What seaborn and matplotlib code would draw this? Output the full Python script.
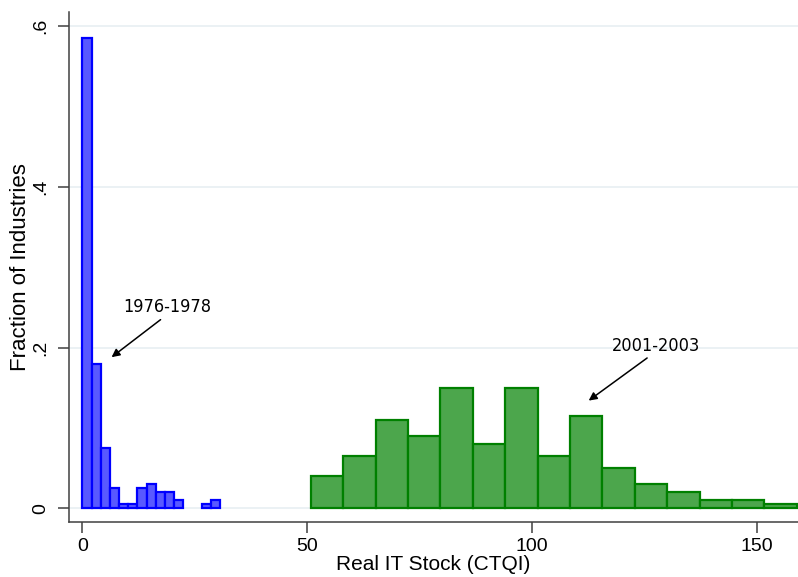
import matplotlib.pyplot as plt
import numpy as np
import pandas as pd
import seaborn as sns

# histogram bins (fraction of industries per bin)
early_start, early_width = 0.0, 2.04
early_frac = [0.585, 0.180, 0.075, 0.025, 0.005, 0.005, 0.025, 0.030,
              0.020, 0.020, 0.010, 0.0, 0.0, 0.005, 0.010]

late_start, late_width = 50.8, 7.205
late_frac = [0.040, 0.065, 0.110, 0.090, 0.150, 0.080, 0.150, 0.065,
             0.115, 0.050, 0.030, 0.020, 0.010, 0.010, 0.005]

x_ticks = [0, 50, 100, 150]
y_ticks = [0, 0.2, 0.4, 0.6]
y_tick_labels = ["0", ".2", ".4", ".6"]


def make_bins(start, width, frac):
    edges = start + width * np.arange(len(frac) + 1)
    centers = (edges[:-1] + edges[1:]) / 2
    return edges.tolist(), pd.DataFrame({"stock": centers, "frac": frac})


sns.set_style("white")
plt.rcParams["font.family"] = ["Liberation Sans", "DejaVu Sans"]
plt.rcParams.update({"text.color": "black", "axes.labelcolor": "black",
                     "xtick.color": "black", "ytick.color": "black"})

fig = plt.figure(figsize=(7.98, 5.77), dpi=100)
ax = fig.add_axes([0.0865, 0.0948, 0.9135, 0.8844])

e_edges, e_df = make_bins(early_start, early_width, early_frac)
l_edges, l_df = make_bins(late_start, late_width, late_frac)

sns.histplot(data=e_df, x="stock", weights="frac", bins=e_edges, ax=ax,
             color="#5959FF", edgecolor="#0000FF", linewidth=1.6, alpha=1)
sns.histplot(data=l_df, x="stock", weights="frac", bins=l_edges, ax=ax,
             color="#4CA64C", edgecolor="#008000", linewidth=1.6, alpha=1)

# empty bins should not leave an outline on the baseline
for p in list(ax.patches):
    if p.get_height() == 0:
        p.remove()

ax.set_xlim(-2.96, 159.15)
ax.set_ylim(-0.0174, 0.6174)
ax.set_xticks(x_ticks)
ax.set_yticks(y_ticks)
ax.set_yticklabels(y_tick_labels, rotation=90, va="center")
ax.tick_params(axis="both", length=8, width=1.1, labelsize=14,
               direction="out", left=True, bottom=True)
ax.tick_params(axis="both", color="#404040")
ax.tick_params(axis="y", pad=6)
ax.tick_params(axis="x", pad=3)

ax.grid(axis="y", color="#E8EFF2", linewidth=1.2)
ax.set_axisbelow(True)
for side in ["top", "right"]:
    ax.spines[side].set_visible(False)
for side in ["left", "bottom"]:
    ax.spines[side].set_color("#404040")
    ax.spines[side].set_linewidth(1.1)

ax.set_xlabel("Real IT Stock (CTQI)", fontsize=15, labelpad=0)
ax.set_ylabel("Fraction of Industries", fontsize=16, labelpad=1)

arrow = dict(arrowstyle="-|>", color="black", lw=1.1, mutation_scale=12,
             shrinkA=0, shrinkB=0)
note = dict(fontsize=13, family="DejaVu Sans", fontstretch="condensed",
            ha="center", va="center", color="black")
ax.text(18.9, 0.25, "1976-1978", **note)
ax.annotate("", xy=(6.5, 0.188), xytext=(17.4, 0.2347), arrowprops=arrow)
ax.text(127.5, 0.2024, "2001-2003", **note)
ax.annotate("", xy=(112.6, 0.134), xytext=(125.6, 0.187), arrowprops=arrow)

fig.savefig("out.png", dpi=100)
